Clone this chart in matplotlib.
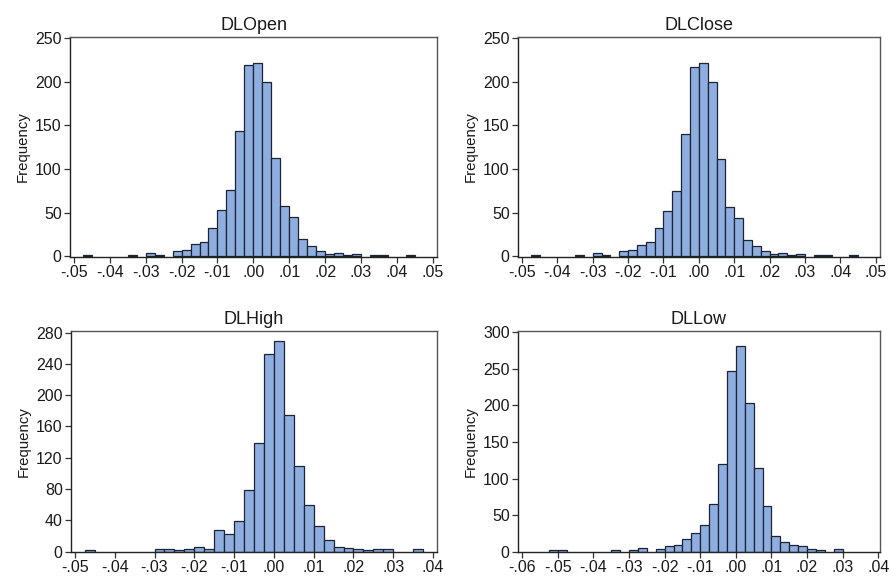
import numpy as np
import matplotlib.pyplot as plt

plt.rcParams["font.family"] = ["Liberation Sans", "DejaVu Sans"]

BIN = 0.0025

# histogram counts per bin; each list starts at its *_start edge
open_start = -0.0475
open_counts = [2, 0, 0, 0, 0, 2, 0, 4, 2, 0, 6, 7, 14, 16, 33, 53, 76, 143, 219, 221,
               199, 113, 58, 45, 20, 12, 6, 3, 4, 2, 3, 0, 2, 2, 0, 0, 2]

close_start = -0.0475
close_counts = [2, 0, 0, 0, 0, 2, 0, 4, 2, 0, 6, 7, 13, 17, 32, 52, 75, 140, 217, 221,
                200, 111, 57, 44, 19, 12, 6, 3, 4, 2, 3, 0, 2, 2, 0, 0, 2]

high_start = -0.0475
high_counts = [2, 0, 0, 0, 0, 0, 0, 3, 3, 2, 3, 6, 3, 27, 22, 39, 79, 139, 253, 269,
               175, 110, 60, 33, 15, 6, 4, 3, 2, 3, 3, 0, 0, 3]

low_start = -0.0525
low_counts = [2, 2, 0, 0, 0, 0, 0, 2, 0, 2, 5, 0, 4, 7, 9, 17, 25, 36, 65, 120, 247, 281,
              204, 115, 63, 21, 13, 9, 7, 4, 2, 0, 3]

panels = [
    ("DLOpen", open_start, open_counts, (-0.0511, 0.0512), (-0.6, 251),
     [0, 50, 100, 150, 200, 250], np.arange(-0.05, 0.0501, 0.01)),
    ("DLClose", close_start, close_counts, (-0.0511, 0.0512), (-0.6, 251),
     [0, 50, 100, 150, 200, 250], np.arange(-0.05, 0.0501, 0.01)),
    ("DLHigh", high_start, high_counts, (-0.051, 0.041), (-0.6, 282),
     [0, 40, 80, 120, 160, 200, 240, 280], np.arange(-0.05, 0.0401, 0.01)),
    ("DLLow", low_start, low_counts, (-0.0612, 0.0405), (-0.6, 302),
     [0, 50, 100, 150, 200, 250, 300], np.arange(-0.06, 0.0401, 0.01)),
]

# axes rectangles in pixels: left, right, top, bottom
boxes = [(70, 437, 37, 257), (518, 880, 37, 257),
         (71, 437, 331, 552), (518, 880, 331, 552)]

W, H = 891, 577
fig = plt.figure(figsize=(W / 100, H / 100), dpi=100)


def fmt(v):
    s = f"{v:.2f}"
    return s.replace("0.", ".", 1)


for (title, start, counts, xl, yl, yt, xt), (l, r, t, b) in zip(panels, boxes):
    ax = fig.add_axes([l / W, 1 - b / H, (r - l) / W, (b - t) / H])
    counts = np.asarray(counts)
    edges = start + BIN * np.arange(len(counts))
    keep = counts > 0
    ax.bar(edges[keep], counts[keep], width=BIN, align="edge", color="#8eaee0",
           edgecolor="#1c2333", linewidth=0.9)
    ax.set_xlim(*xl)
    ax.set_ylim(*yl)
    ax.set_yticks(yt)
    ax.set_xticks(xt)
    ax.set_xticklabels([fmt(v) for v in xt])
    ax.tick_params(labelsize=11.5, length=4, width=0.9, color="#333333",
                   labelcolor="#1a1a1a", pad=2)
    for sp in ax.spines.values():
        sp.set_color("#555555")
        sp.set_linewidth(1.0)
    ax.spines["bottom"].set_color("#222222")
    ax.spines["left"].set_color("#222222")
    ax.set_title(title, fontsize=13, pad=5, color="#1a1a1a")
    ax.set_ylabel("Frequency", fontsize=10.8, labelpad=4, color="#1a1a1a")

fig.savefig("out.png", dpi=100)
